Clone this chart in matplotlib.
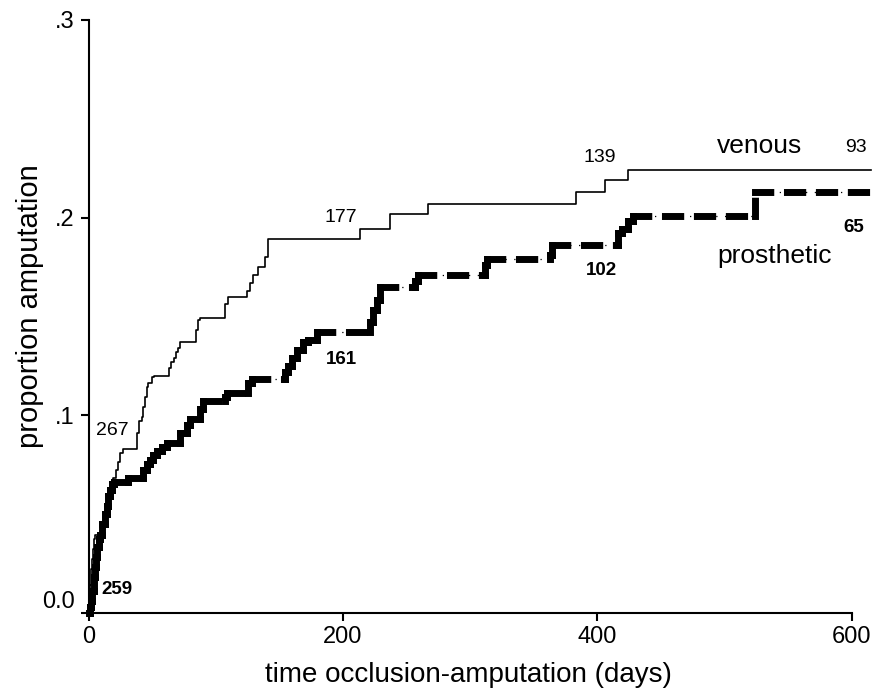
import matplotlib as mpl
mpl.use('Agg')
import matplotlib.pyplot as plt
import numpy as np
from matplotlib.collections import LineCollection

plt.rcParams['font.family'] = ['Liberation Sans', 'DejaVu Sans']

# cumulative proportion amputated, step times in days
venous_t = [0.4, 1.2, 2.0, 2.8, 3.5, 4.3, 5.1, 10.6, 11.4, 13.0, 14.5, 15.3, 16.9,
            18.5, 19.2, 21.6, 23.2, 24.8, 27.1, 38.1, 39.7, 42.1, 42.8, 44.4, 46.0,
            46.8, 49.9, 51.5, 63.3, 64.9, 67.2, 68.8, 70.4, 71.9, 84.5, 86.1, 87.7,
            107.3, 109.7, 124.6, 127.0, 129.3, 133.3, 138.8, 141.1, 213.4, 237.0,
            266.9, 383.3, 406.1, 424.2]
venous_p = [0.006, 0.014, 0.022, 0.027, 0.032, 0.037, 0.039, 0.044, 0.048, 0.053,
            0.057, 0.061, 0.064, 0.066, 0.068, 0.072, 0.076, 0.081, 0.083, 0.091,
            0.097, 0.099, 0.104, 0.109, 0.114, 0.116, 0.119, 0.120, 0.124, 0.127,
            0.129, 0.132, 0.134, 0.137, 0.143, 0.148, 0.149, 0.156, 0.160, 0.163,
            0.167, 0.171, 0.175, 0.180, 0.189, 0.194, 0.202, 0.207, 0.213, 0.219,
            0.224]

prosthetic_t = [1.2, 2.0, 2.8, 4.3, 5.1, 5.9, 6.7, 8.3, 9.0, 10.6, 13.0, 14.5, 15.3,
                16.9, 18.5, 20.0, 31.1, 42.8, 46.0, 48.4, 50.7, 53.9, 57.8, 61.7,
                71.9, 77.4, 79.8, 87.7, 90.0, 107.3, 108.9, 125.4, 128.5, 154.5,
                156.8, 160.0, 163.9, 168.6, 172.6, 179.6, 221.3, 223.7, 226.8, 229.2,
                256.7, 259.0, 311.7, 313.3, 362.8, 364.4, 416.3, 419.4, 424.2, 428.1,
                524.0]
prosthetic_p = [0.003, 0.006, 0.011, 0.018, 0.023, 0.028, 0.033, 0.037, 0.039, 0.045,
                0.050, 0.054, 0.059, 0.062, 0.065, 0.066, 0.068, 0.072, 0.075, 0.077,
                0.080, 0.082, 0.084, 0.086, 0.091, 0.095, 0.098, 0.103, 0.107, 0.109,
                0.111, 0.116, 0.118, 0.122, 0.125, 0.129, 0.133, 0.137, 0.138, 0.142,
                0.147, 0.153, 0.158, 0.165, 0.168, 0.171, 0.176, 0.179, 0.181, 0.186,
                0.192, 0.194, 0.198, 0.201, 0.213]

t_end = 615

# numbers at risk
venous_risk = ['267', '177', '139', '93']
prosthetic_risk = ['259', '161', '102', '65']

x_ticks = [0, 200, 400, 600]
y_ticks = [0.0, 0.1, 0.2, 0.3]
y_ticklabels = ['0.0', '.1', '.2', '.3']


def step_points(t, p):
    xs, ys = [0.0], [0.0]
    prev = 0.0
    for ti, pi in zip(t, p):
        xs += [ti, ti]
        ys += [prev, pi]
        prev = pi
    xs.append(t_end)
    ys.append(prev)
    return np.array(xs), np.array(ys)


fig = plt.figure(figsize=(8.72, 6.91), dpi=100)
ax = fig.add_axes([88.5 / 872, 78.5 / 691, 784 / 872, 592.5 / 691])
ax.set_xlim(0, 784 / 1.272)
ax.set_ylim(0, 0.3)

# venous: thin solid step line
vx, vy = step_points(venous_t, venous_p)
ax.plot(vx, vy, color='k', lw=1.2, clip_on=False, zorder=3)

# prosthetic: thick dashed, pattern restarting at every segment
px, py = step_points(prosthetic_t, prosthetic_p)
ax.plot(px, py, color='k', lw=0.9, ls=(0, (1, 6)), clip_on=False, zorder=2)
pts = np.column_stack([px, py])
segs = np.stack([pts[:-1], pts[1:]], axis=1)
lc = LineCollection(segs, colors='k', linewidths=5,
                    linestyles=[(0, (2.2, 2.4))], capstyle='projecting',
                    clip_on=False, zorder=4)
ax.add_collection(lc)

# numbers at risk
num_size = 14
ax.text(18.5, 0.0924, venous_risk[0], ha='center', va='center', fontsize=num_size)
ax.text(198.7, 0.200, venous_risk[1], ha='center', va='center', fontsize=num_size)
ax.text(402, 0.2304, venous_risk[2], ha='center', va='center', fontsize=num_size)
ax.text(603, 0.2352, venous_risk[3], ha='center', va='center', fontsize=num_size)
ax.text(22.4, 0.0114, prosthetic_risk[0], ha='center', va='center',
        fontsize=13.5, fontweight='bold')
ax.text(198.7, 0.128, prosthetic_risk[1], ha='center', va='center',
        fontsize=13.5, fontweight='bold')
ax.text(403, 0.1734, prosthetic_risk[2], ha='center', va='center',
        fontsize=13.5, fontweight='bold')
ax.text(602, 0.1947, prosthetic_risk[3], ha='center', va='center',
        fontsize=13.5, fontweight='bold')

ax.text(494, 0.2327, 'venous', ha='left', va='baseline', fontsize=19)
ax.text(494, 0.177, 'prosthetic', ha='left', va='baseline', fontsize=19)

# axes styling
for side in ['top', 'right']:
    ax.spines[side].set_visible(False)
ax.spines['left'].set_linewidth(1.5)
ax.spines['bottom'].set_linewidth(1.5)
ax.spines['left'].set_bounds(0, 0.3)
ax.spines['bottom'].set_bounds(0, 600)

ax.set_xticks(x_ticks)
ax.set_yticks(y_ticks)
ax.set_yticklabels(y_ticklabels)
ax.tick_params(axis='both', direction='out', length=6, width=1.5,
               colors='k', labelsize=17)
ax.tick_params(axis='y', pad=4)
ax.tick_params(axis='x', pad=4)
ax.yaxis.get_major_ticks()[0].label1.set_verticalalignment('bottom')

ax.set_xlabel('time occlusion-amputation (days)', fontsize=20, va='center')
ax.xaxis.set_label_coords((468 - 88.5) / 784, (612.5 - 675) / 592.5)
ax.set_ylabel('proportion amputation', fontsize=21, va='center')
ax.yaxis.set_label_coords((30 - 88.5) / 784, (612.5 - 306) / 592.5)

plt.savefig('out.png', dpi=100)
